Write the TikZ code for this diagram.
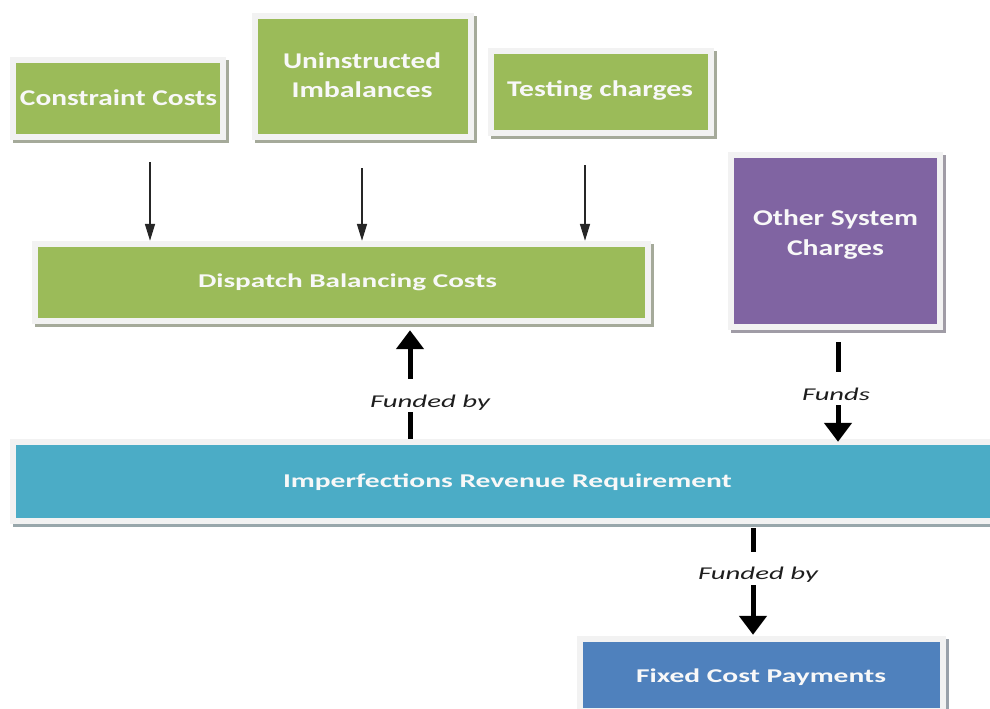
\documentclass[tikz,border=0pt]{standalone}
\usepackage{fontspec}
\usepackage{graphicx}
\setmainfont{Carlito}
\usetikzlibrary{arrows.meta,shadows,calc}
\definecolor{grn}{HTML}{9BBB59}
\definecolor{prp}{HTML}{8064A2}
\definecolor{tea}{HTML}{4BACC6}
\definecolor{blu}{HTML}{4F81BD}
\definecolor{framec}{HTML}{F2F2F2}
\definecolor{txtw}{HTML}{F8F8F8}
\definecolor{labc}{HTML}{1E1E1E}
\newsavebox\fitbox
\newcommand\fitw[2]{\sbox\fitbox{#2}\pgfmathsetmacro\fitratio{#1/\the\wd\fitbox}\scalebox{\fitratio}[1]{\usebox\fitbox}}
\tikzset{
  framebox/.style={rectangle, draw=none, fill=framec, inner sep=0pt,
    drop shadow={shadow xshift=3pt, shadow yshift=-3pt, fill=#1!35!black!45, opacity=1},
    path picture={\fill[#1] ([shift={(6pt,-6pt)}]path picture bounding box.north west)
      rectangle ([shift={(-6pt,6pt)}]path picture bounding box.south east);}},
  bigtxt/.style={text=txtw, inner sep=0pt, align=center,
    font=\bfseries\fontsize{22.5}{29.5}\selectfont},
  midtxt/.style={text=txtw, inner sep=0pt, align=center,
    font=\bfseries\fontsize{19.5}{24}\selectfont},
  lab/.style={text=labc, inner sep=0pt, font=\itshape\fontsize{18}{20}\selectfont},
  thinarr/.style={draw=black!85, line width=1.6pt, -{Triangle[width=10pt,length=17pt]}},
  thickl/.style={draw=black, line width=5pt},
  thickarr/.style={draw=black, line width=5pt, -{Triangle[width=27pt,length=19pt]}}
}
\begin{document}
\begin{tikzpicture}[x=1pt,y=-1pt]
\useasboundingbox (0,0) rectangle (990,709);
\clip (0,0) rectangle (990,709);
\fill[white] (0,0) rectangle (990,709);
% boxes
\node[framebox=grn, minimum width=216pt, minimum height=83pt] (cc) at (118,98.5) {};
\node[framebox=grn, minimum width=222pt, minimum height=127pt] (ui) at (363,76.5) {};
\node[framebox=grn, minimum width=226pt, minimum height=88pt] (tc) at (601,92) {};
\node[framebox=prp, minimum width=215pt, minimum height=178pt] (osc) at (835.5,241) {};
\node[framebox=grn, minimum width=619pt, minimum height=83pt] (dbc) at (341.5,282.5) {};
\node[framebox=tea, minimum width=995pt, minimum height=85pt] (irr) at (507.5,481.5) {};
\node[framebox=blu, minimum width=369pt, minimum height=78pt] (fcp) at (761.5,675) {};
% texts
\node[bigtxt] (cct) at (118.5,97.7) {\fitw{197}{Constraint Costs}};
\node[bigtxt] (uit) at (362,75.2) {\fitw{158}{Uninstructed}\\\fitw{141}{Imbalances}};
\node[bigtxt] (tct) at (600,90.5) {\fitw{186}{Testing charges}};
\node[bigtxt] (osct) at (835.5,234.5) {\fitw{165}{Other System}\\\fitw{97}{Charges}};
\node[midtxt] (dbct) at (347.5,282.8) {\fitw{299}{Dispatch Balancing Costs}};
\node[midtxt] (irrt) at (507.5,481.8) {\fitw{449}{Imperfections Revenue Requirement}};
\node[midtxt] (fcpt) at (761,676.8) {\fitw{250}{Fixed Cost Payments}};
% thin arrows
\coordinate (t1) at ($(cc.south -| 150,0)+(0,22)$);
\coordinate (t2) at ($(ui.south -| 362,0)+(0,28)$);
\coordinate (t3) at ($(tc.south -| 585,0)+(0,29)$);
\draw[thinarr] (t1) -- (t1 |- dbc.north);
\draw[thinarr] (t2) -- (t2 |- dbc.north);
\draw[thinarr] (t3) -- (t3 |- dbc.north);
% funded by (up)
\coordinate (u0) at (irr.north -| 410,0);
\draw[thickl] (u0) -- ++(0,-27);
\node[lab] (fb1) at (430,403) {\fitw{120}{Funded by}};
\draw[thickarr] ($(u0)+(0,-60)$) -- ($(dbc.south -| 410,0)+(0,6)$);
% funds
\coordinate (f0) at ($(osc.south -| 838,0)+(0,12)$);
\draw[thickl] (f0) -- ++(0,30);
\node[lab] (fu) at (836,394.5) {\fitw{68}{Funds}};
\draw[thickarr] ($(f0)+(0,63)$) -- ($(irr.north -| 838,0)+(0,3)$);
% funded by (down)
\coordinate (b0) at ($(irr.south -| 753,0)+(0,4)$);
\draw[thickl] (b0) -- ++(0,24);
\node[lab] (fb2) at (758,574.5) {\fitw{120}{Funded by}};
\draw[thickarr] ($(b0)+(0,57)$) -- ($(fcp.north -| 753,0)+(0,-1)$);
\end{tikzpicture}
\end{document}
